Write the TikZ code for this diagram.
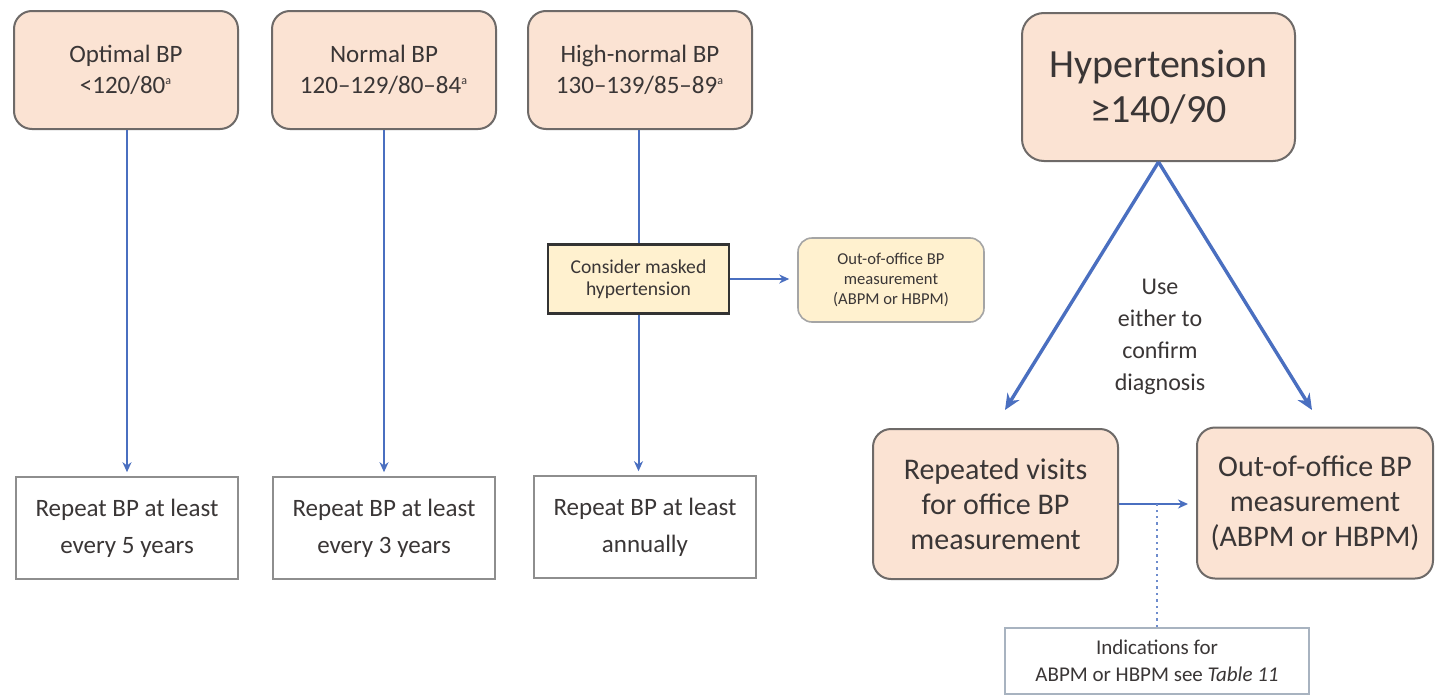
\documentclass[tikz,border=0pt]{standalone}
\usepackage{fontspec}
\setmainfont{Carlito}
\usetikzlibrary{arrows.meta,positioning}
\definecolor{peach}{HTML}{FBE3D3}
\definecolor{peachline}{HTML}{6E6A68}
\definecolor{pale}{HTML}{FFF1CF}
\definecolor{blueln}{HTML}{4A6FC0}
\definecolor{txt}{HTML}{3A3636}
\definecolor{greyln}{HTML}{8E8E8E}
\definecolor{indln}{HTML}{A8B3C0}
\tikzset{
  catbox/.style={draw=peachline, line width=1pt, fill=peach, rounded corners=9pt,
    align=center, text=txt, inner sep=2pt},
  topbox/.style={catbox, minimum width=112pt, minimum height=59pt,
    font=\fontsize{12.5}{15.5}\selectfont},
  bigbox/.style={catbox, font=\fontsize{15}{17.5}\selectfont},
  repbox/.style={draw=greyln, line width=0.8pt, fill=white, align=center, text=txt,
    minimum width=111pt, minimum height=51pt, font=\fontsize{12.5}{18.5}\selectfont},
  maskbox/.style={draw=black!80, line width=1.2pt, fill=pale, align=center, text=txt,
    minimum width=90.5pt, minimum height=34.5pt, font=\fontsize{9.8}{11}\selectfont},
  oosmall/.style={draw=greyln!80, line width=0.8pt, fill=pale, rounded corners=7pt,
    align=center, text=txt, minimum width=93pt, minimum height=42pt,
    font=\fontsize{8.3}{10}\selectfont},
  indbox/.style={draw=indln, line width=0.8pt, fill=white, align=center, text=txt,
    minimum width=152pt, minimum height=33pt, font=\fontsize{10.5}{13.5}\selectfont},
  flow/.style={draw=blueln, line width=1pt, -{Stealth[length=5pt,width=4.5pt]}},
  bigflow/.style={draw=blueln, line width=1.7pt, -{Stealth[length=8pt,width=7pt]}},
  lbl/.style={align=center, text=txt, font=\fontsize{12}{16}\selectfont},
}
\newcommand{\supa}{\textsuperscript{\fontsize{6}{6}\selectfont a}}
\begin{document}
\begin{tikzpicture}[x=0.5pt,y=-0.5pt]
\useasboundingbox[fill=white] (0,0) rectangle (1435,696);

% top category boxes
\node[topbox] (opt) at (126,70) {Optimal BP\\<120/80\supa};
\node[topbox] (nor) at (384,70) {Normal BP\\120--129/80--84\supa};
\node[topbox] (hno) at (640,70) {High-normal BP\\130--139/85--89\supa};

% repeat boxes
\node[repbox] (r1) at (127,528) {Repeat BP at least\\every 5 years};
\node[repbox] (r2) at (384,528) {Repeat BP at least\\every 3 years};
\node[repbox] (r3) at (645,527) {Repeat BP at least\\annually};

% masked hypertension
\node[maskbox] (mask) at (638.5,279) {Consider masked\\hypertension};
\node[oosmall] (oos) at (891,280) {Out-of-office BP\\measurement\\(ABPM or HBPM)};

% hypertension
\node[bigbox, minimum width=136.5pt, minimum height=74pt, rounded corners=11pt,
  font=\fontsize{20}{22.5}\selectfont] (hyp) at (1158.5,87) {Hypertension\\≥140/90};
\node[bigbox, minimum width=122.5pt, minimum height=75pt] (rv) at (995.5,504)
  {Repeated visits\\for office BP\\measurement};
\node[bigbox, minimum width=118pt, minimum height=75.5pt] (oob) at (1315,503)
  {Out-of-office BP\\measurement\\(ABPM or HBPM)};
\node[indbox] (ind) at (1157,661) {Indications for\\ABPM or HBPM see \textit{Table 11}};
\node[lbl] (use) at (1160,337) {Use\\either to\\confirm\\diagnosis};

% free arrow ends
\coordinate (hl) at (1005,410);
\coordinate (hr) at (1312,410);

% connectors
\draw[flow, shorten >=2pt] (opt.south -| r1.north) -- (r1.north);
\draw[flow, shorten >=2pt] (nor.south -| r2.north) -- (r2.north);
\draw[blueln, line width=1pt] (hno.south -| mask.north) -- (mask.north);
\draw[flow, shorten >=2pt] (mask.south) -- (mask.south |- r3.north);
\draw[flow, shorten >=4pt] (mask.east) -- (mask.east -| oos.west);

\draw[bigflow] (hyp.south) -- (hl);
\draw[bigflow] (hyp.south) -- (hr);
\draw[flow, shorten >=4pt] (rv.east) -- (rv.east -| oob.west);
\draw[blueln!80, line width=1.2pt, dotted] (ind.north) -- (ind.north |- rv.east);
\end{tikzpicture}
\end{document}
